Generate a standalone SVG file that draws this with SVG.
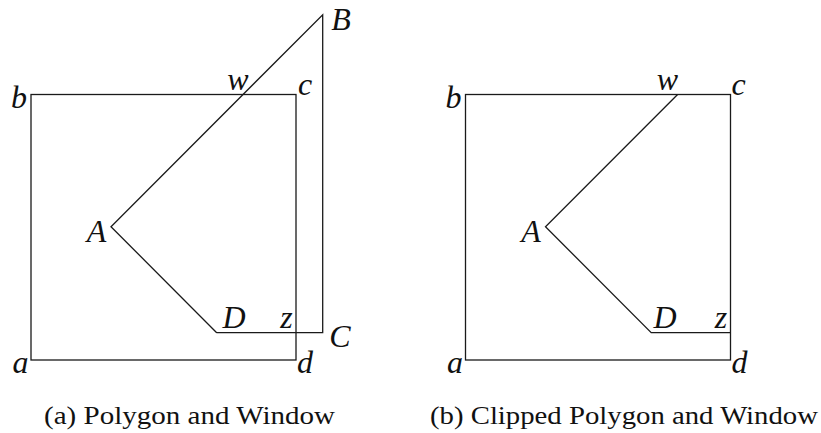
<svg xmlns="http://www.w3.org/2000/svg" width="821" height="433" viewBox="0 0 821 433">
<style>
.ln{fill:none;stroke:#1a1a1a;stroke-width:1.3;stroke-linejoin:miter}
.lb{font-family:"Liberation Serif","Times New Roman",serif;font-style:italic;font-size:32px;fill:#111;text-anchor:middle}
.cap{font-family:"Liberation Serif","Times New Roman",serif;font-size:26px;fill:#111}
</style>
<rect width="821" height="433" fill="#fff"/>
<g id="panel-a">
  <g id="window-a"><rect class="ln" x="31" y="94.5" width="265" height="265.5"/></g>
  <g id="polygon-a"><polyline class="ln" points="216.7,332.7 111,226.7 322.7,14.7 322.7,332.7 216.7,332.7"/></g>
  <g id="labels-a">
    <text class="lb" x="341" y="30">B</text>
    <text class="lb" x="238" y="90">w</text>
    <text class="lb" x="305" y="95">c</text>
    <text class="lb" x="19" y="108">b</text>
    <text class="lb" x="96.5" y="242">A</text>
    <text class="lb" x="234" y="328">D</text>
    <text class="lb" x="286.5" y="328">z</text>
    <text class="lb" x="340" y="347">C</text>
    <text class="lb" x="20.5" y="373">a</text>
    <text class="lb" x="305" y="373">d</text>
  </g>
  <text id="caption-a" class="cap" x="44" y="424" textLength="291" lengthAdjust="spacingAndGlyphs">(a) Polygon and Window</text>
</g>
<g id="panel-b">
  <g id="window-b"><rect class="ln" x="465.5" y="94.5" width="265" height="265.5"/></g>
  <g id="polygon-b"><polyline class="ln" points="677.6,94.5 545.5,226.7 651.2,332.7 730.5,332.7"/></g>
  <g id="labels-b">
    <text class="lb" x="667.5" y="90">w</text>
    <text class="lb" x="738.5" y="95">c</text>
    <text class="lb" x="453.5" y="108">b</text>
    <text class="lb" x="531" y="242">A</text>
    <text class="lb" x="665" y="328">D</text>
    <text class="lb" x="721" y="328">z</text>
    <text class="lb" x="455" y="373">a</text>
    <text class="lb" x="739.5" y="373">d</text>
  </g>
  <text id="caption-b" class="cap" x="430" y="424" textLength="388" lengthAdjust="spacingAndGlyphs">(b) Clipped Polygon and Window</text>
</g>
</svg>
